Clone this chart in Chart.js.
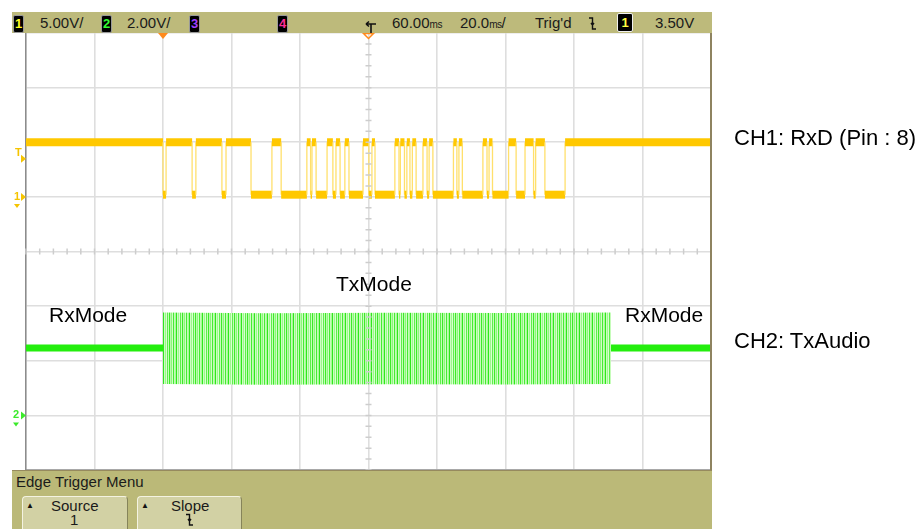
<!DOCTYPE html>
<html>
<head>
<meta charset="utf-8">
<script src="https://cdn.jsdelivr.net/npm/chart.js@4"></script>
<style>
html,body{margin:0;padding:0;background:#fff;}
body{width:920px;height:529px;position:relative;overflow:hidden;font-family:"Liberation Sans",Arial,sans-serif;}
#c{position:absolute;left:0;top:0;}
.abs{position:absolute;white-space:nowrap;}
.bar{left:12px;top:12px;width:700px;height:21px;background:#BDBA7B;}
.bt{top:12px;height:21px;font-size:15px;line-height:21px;color:#1a1a1a;}
.ms{font-size:10px;letter-spacing:-0.5px;}
.chbox{top:15px;width:9px;height:16px;background:#000;border:1px solid #9a9a9a;border-radius:2px;font-weight:bold;font-size:13px;line-height:16px;text-align:center;}
.menu{left:12px;top:470px;width:700px;height:59px;background:#BBB978;border-top:1px solid #968a5e;}
.mt{font-size:15px;line-height:15px;color:#1a1a1a;}
.btn{top:496px;height:40px;background:#D2D1A4;border:1px solid;border-color:#F4F3E2 #86845A #86845A #F4F3E2;border-radius:4px 4px 0 0;}
.lbl{font-size:21px;line-height:21px;color:#000;}
.rl{font-size:22px;line-height:22px;color:#000;}
.rborder{left:710px;top:33px;width:2px;height:437px;background:#8E8360;}
</style>
</head>
<body>
<canvas id="c" width="920" height="529"></canvas>

<!-- top status bar -->
<div class="abs bar"></div>
<div class="abs chbox" style="left:13px;color:#FFFF20">1</div>
<div class="abs bt" style="left:40px">5.00V/</div>
<div class="abs chbox" style="left:101px;color:#33FF33">2</div>
<div class="abs bt" style="left:127px">2.00V/</div>
<div class="abs chbox" style="left:189px;color:#A040FF">3</div>
<div class="abs chbox" style="left:277px;color:#FF2D95">4</div>
<svg class="abs" style="left:362px;top:12px" width="18" height="21" viewBox="0 0 18 21">
  <path d="M4 12 H14 M4 12 L7 9.5 M4 12 L7 14.5 M9 12 V21" stroke="#111" stroke-width="1.6" fill="none"/>
</svg>
<div class="abs bt" style="left:392px">60.00<span class="ms">ms</span></div>
<div class="abs bt" style="left:460px">20.0<span class="ms">ms</span>/</div>
<div class="abs bt" style="left:535px">Trig'd</div>
<svg class="abs" style="left:588px;top:16px" width="10" height="15" viewBox="0 0 10 15">
  <path d="M1 2 H4.5 V13 H8 M3 7 L4.5 9 L6 7" stroke="#111" stroke-width="1.4" fill="none"/>
</svg>
<div class="abs" style="left:617px;top:13px;width:14px;height:17px;background:#000;border:1.5px solid #f0f0f0;border-radius:2px;color:#FFFF40;font-weight:bold;font-size:13px;line-height:17px;text-align:center;">1</div>
<div class="abs bt" style="left:655px">3.50V</div>

<!-- right border of the screen -->
<div class="abs rborder"></div>

<!-- bottom softkey menu -->
<div class="abs menu"></div>
<div class="abs mt" style="left:16px;top:474px">Edge Trigger Menu</div>
<div class="abs btn" style="left:22px;width:104px"></div>
<div class="abs" style="left:26px;top:502px;font-size:8px;line-height:8px;color:#111">▲</div>
<div class="abs mt" style="left:51px;top:498px">Source</div>
<div class="abs mt" style="left:70px;top:512px">1</div>
<div class="abs btn" style="left:137px;width:103px"></div>
<div class="abs" style="left:141px;top:502px;font-size:8px;line-height:8px;color:#111">▲</div>
<div class="abs mt" style="left:171px;top:498px">Slope</div>
<svg class="abs" style="left:185px;top:513px" width="10" height="14" viewBox="0 0 10 14">
  <path d="M1 1.5 H4.5 V12 H8 M3 6 L4.5 8 L6 6" stroke="#111" stroke-width="1.4" fill="none"/>
</svg>

<!-- annotations -->
<div class="abs lbl" style="left:49px;top:304px">RxMode</div>
<div class="abs lbl" style="left:336px;top:273px">TxMode</div>
<div class="abs lbl" style="left:625px;top:304px">RxMode</div>
<div class="abs rl" style="left:734px;top:127px">CH1: RxD (Pin : 8)</div>
<div class="abs rl" style="left:734px;top:330px">CH2: TxAudio</div>

<script>
// ---- data (time in ms relative to trigger, volts per channel) ----
const timeTicks = [-40, -20, 0, 20, 40, 60, 80, 100, 120, 140, 160];
const ch1Ticks = [-25, -20, -15, -10, -5, 0, 5, 10, 15];   // 5.00 V/div
const ch2Ticks = [-2, 0, 2, 4, 6, 8, 10, 12, 14];           // 2.00 V/div
const trigLevel = 3.5;
const rxdHigh = 5.0;
const rxdLow = 0.2;
// RxD edge times (ms), signal starts high and toggles at each edge
const rxdEdges = [0.0, 0.9, 8.5, 9.6, 17.2, 18.4, 25.7, 31.8, 34.5, 42.0,
  43.1, 43.5, 44.7, 47.9, 49.6, 50.5, 51.7, 53.1, 54.3, 58.4,
  60.1, 61.0, 61.9, 67.7, 68.9, 69.3, 70.5, 71.2, 72.1, 72.8,
  73.9, 75.9, 77.1, 77.7, 78.8, 84.8, 85.8, 86.4, 87.4, 93.4,
  94.6, 95.2, 96.2, 100.9, 103.1, 105.7, 108.2, 108.8, 111.5, 117.4];
// TxAudio: idle level and burst envelope
const txIdle = 2.47;
const txBurstStart = 0.0;
const txBurstEnd = 130.8;
const txEnvTimes = [0.0, 30, 65, 100, 130.8];
const txEnvTop = [3.77, 3.74, 3.76, 3.75, 3.77];
const txEnvBottom = [1.15, 1.12, 1.14, 1.13, 1.15];

// ---- build step trace for RxD ----
const tMin = timeTicks[0], tMax = timeTicks[timeTicks.length - 1];
const rxdPts = [{x: tMin, y: rxdHigh}];
let lvl = rxdHigh;
rxdEdges.forEach(t => {
  rxdPts.push({x: t, y: lvl});
  lvl = (lvl === rxdHigh) ? rxdLow : rxdHigh;
  rxdPts.push({x: t, y: lvl});
});
rxdPts.push({x: tMax, y: lvl});

const txIdlePts = [
  {x: tMin, y: txIdle}, {x: txBurstStart, y: txIdle},
  {x: (txBurstStart + txBurstEnd) / 2, y: null},
  {x: txBurstEnd, y: txIdle}, {x: tMax, y: txIdle}
];
const txTopPts = txEnvTimes.map((t, i) => ({x: t, y: txEnvTop[i]}));
const txBotPts = txEnvTimes.map((t, i) => ({x: t, y: txEnvBottom[i]}));

function stripes() {
  const c = document.createElement('canvas');
  const cols = ['#3CEB28', '#B8FBAA', '#8DF57C', '#D0FDC6', '#46EC33', '#C2FCB6',
    '#A6F898', '#2FE81C', '#CAFDBF', '#9CF78C', '#D8FED0', '#5EEF4C', '#C6FCBA'];
  c.width = cols.length; c.height = 2;
  const g = c.getContext('2d');
  cols.forEach((col, i) => { g.fillStyle = col; g.fillRect(i, 0, 1, 2); });
  return g.createPattern(c, 'repeat');
}

const scopeDecor = {
  id: 'scopeDecor',
  afterDraw(chart) {
    const {ctx, chartArea: a, scales: {x, y, y2}} = chart;
    ctx.save();
    // minor ticks on the centre graticule lines
    ctx.strokeStyle = '#CDCDCD';
    ctx.lineWidth = 1.5;
    const cx = x.getPixelForValue(timeTicks[5]);
    const cy = y.getPixelForValue(ch1Ticks[4]);
    const divY = (a.bottom - a.top) / 8, divX = (a.right - a.left) / 10;
    ctx.beginPath();
    for (let k = 0; k <= 40; k++) {
      const py = a.top + k * divY / 5;
      ctx.moveTo(cx - 3, py); ctx.lineTo(cx + 3, py);
    }
    for (let k = 0; k <= 50; k++) {
      const px = a.left + k * divX / 5;
      ctx.moveTo(px, cy - 3); ctx.lineTo(px, cy + 3);
    }
    ctx.stroke();

    // trigger position marker (orange, filled) and delay reference (hollow)
    const tx = x.getPixelForValue(0);
    ctx.fillStyle = '#FF8A1C';
    ctx.beginPath();
    ctx.moveTo(tx - 5, a.top); ctx.lineTo(tx + 5, a.top); ctx.lineTo(tx, a.top + 6); ctx.closePath();
    ctx.fill();
    ctx.strokeStyle = '#FF8A1C'; ctx.lineWidth = 1.5;
    ctx.beginPath();
    ctx.moveTo(cx - 5, a.top + 0.5); ctx.lineTo(cx + 5, a.top + 0.5); ctx.lineTo(cx, a.top + 5.5); ctx.closePath();
    ctx.stroke();

    // channel ground / trigger level markers at left
    const arrow = (py, col) => {
      ctx.fillStyle = col;
      ctx.beginPath();
      ctx.moveTo(a.left - 5, py - 4); ctx.lineTo(a.left, py); ctx.lineTo(a.left - 5, py + 4); ctx.closePath();
      ctx.fill();
    };
    ctx.font = 'bold 11px "Liberation Sans", Arial, sans-serif';
    ctx.textBaseline = 'middle';
    const yT = y.getPixelForValue(trigLevel);
    arrow(yT, '#F5C400');
    ctx.fillStyle = '#F5C400';
    ctx.fillText('T', a.left - 11, yT - 6);
    const y1 = y.getPixelForValue(0);
    arrow(y1, '#F5C400');
    ctx.fillStyle = '#F5C400';
    ctx.fillText('1', a.left - 12, y1);
    ctx.beginPath();
    ctx.moveTo(a.left - 12, y1 + 7); ctx.lineTo(a.left - 6, y1 + 7); ctx.lineTo(a.left - 9, y1 + 11); ctx.closePath();
    ctx.fill();
    const yg = y2.getPixelForValue(0);
    arrow(yg, '#3BEA2A');
    ctx.fillStyle = '#3BEA2A';
    ctx.fillText('2', a.left - 13, yg);
    ctx.beginPath();
    ctx.moveTo(a.left - 13, yg + 7); ctx.lineTo(a.left - 7, yg + 7); ctx.lineTo(a.left - 10, yg + 11); ctx.closePath();
    ctx.fill();
    ctx.restore();
  }
};

const vert = c => c.p0.parsed.x === c.p1.parsed.x;

new Chart(document.getElementById('c'), {
  type: 'line',
  data: {
    datasets: [
      {
        label: 'CH1 RxD', data: rxdPts, yAxisID: 'y',
        pointRadius: 0, tension: 0, borderCapStyle: 'butt', borderJoinStyle: 'miter',
        borderColor: '#FFC800', borderWidth: 8,
        segment: {
          borderWidth: c => vert(c) ? 1.3 : 8,
          borderColor: c => vert(c) ? 'rgba(255,222,100,0.95)' : '#FFC800'
        }
      },
      {
        label: 'CH2 idle', data: txIdlePts, yAxisID: 'y2', spanGaps: false,
        pointRadius: 0, borderColor: '#24EE0E', borderWidth: 7, borderCapStyle: 'butt'
      },
      {
        label: 'CH2 burst top', data: txTopPts, yAxisID: 'y2',
        pointRadius: 0, borderWidth: 0, fill: false
      },
      {
        label: 'CH2 burst bottom', data: txBotPts, yAxisID: 'y2',
        pointRadius: 0, borderWidth: 0,
        fill: '-1', backgroundColor: stripes()
      }
    ]
  },
  options: {
    responsive: false, animation: false, devicePixelRatio: 1,
    layout: {padding: {left: 26, top: 33, right: 209, bottom: 59}},
    plugins: {legend: {display: false}, tooltip: {enabled: false}},
    events: [],
    scales: {
      x: {
        type: 'linear', min: tMin, max: tMax,
        afterBuildTicks: s => { s.ticks = timeTicks.map(v => ({value: v})); },
        ticks: {display: false},
        grid: {color: '#DEDEDE', lineWidth: 1.6, drawTicks: false},
        border: {display: true, color: '#A8A8A8', width: 1.5}
      },
      y: {
        type: 'linear', min: ch1Ticks[0], max: ch1Ticks[ch1Ticks.length - 1],
        afterBuildTicks: s => { s.ticks = ch1Ticks.map(v => ({value: v})); },
        ticks: {display: false},
        grid: {color: '#DEDEDE', lineWidth: 1.6, drawTicks: false},
        border: {display: true, color: '#8C8C8C', width: 1.5}
      },
      y2: {
        type: 'linear', display: false,
        min: ch2Ticks[0], max: ch2Ticks[ch2Ticks.length - 1]
      }
    }
  },
  plugins: [scopeDecor]
});
</script>
</body>
</html>
